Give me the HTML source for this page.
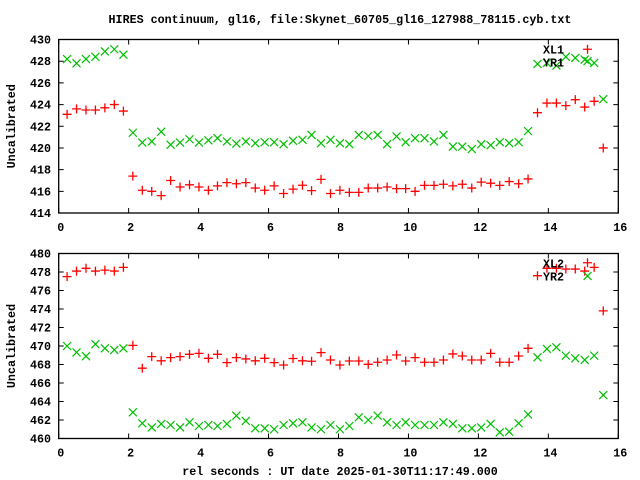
<!DOCTYPE html>
<html><head><meta charset="utf-8"><style>
html,body{margin:0;padding:0;background:#fff;}
svg{display:block;}
text{font-family:"Liberation Mono","DejaVu Sans Mono",monospace;font-weight:bold;font-size:11.7px;fill:#000;}
</style></head>
<body>
<svg id="chart" width="640" height="480" viewBox="0 0 640 480">
<text x="340" y="23" text-anchor="middle">HIRES continuum, gl16, file:Skynet_60705_gl16_127988_78115.cyb.txt</text>
<text x="340" y="475" text-anchor="middle">rel seconds : UT date 2025-01-30T11:17:49.000</text>
<g id="p1"></g>
<g id="p2"></g>
</svg>
<script>
const times = [0.24,0.51,0.78,1.05,1.32,1.59,1.85,2.12,2.39,2.66,2.93,3.20,3.47,3.74,4.01,4.28,4.54,4.81,5.08,5.35,5.62,5.89,6.16,6.43,6.70,6.97,7.23,7.50,7.77,8.04,8.31,8.58,8.85,9.12,9.39,9.66,9.92,10.19,10.46,10.73,11.00,11.27,11.54,11.81,12.08,12.35,12.61,12.88,13.15,13.42,13.69,13.96,14.23,14.50,14.77,15.04,15.12,15.31,15.57];
const xl1 = [423.1,423.6,423.5,423.5,423.7,424.0,423.4,417.4,416.1,416.0,415.6,417.0,416.4,416.6,416.4,416.1,416.5,416.8,416.7,416.8,416.3,416.1,416.5,415.8,416.2,416.56,416.06,417.1,415.8,416.1,415.9,415.9,416.3,416.3,416.4,416.25,416.25,416.0,416.55,416.55,416.65,416.5,416.65,416.3,416.85,416.75,416.55,416.9,416.7,417.14,423.25,424.14,424.14,423.9,424.45,423.77,429.1,424.3,420.0];
const yr1 = [428.2,427.8,428.2,428.4,428.9,429.1,428.6,421.4,420.5,420.6,421.5,420.3,420.5,420.8,420.5,420.7,420.9,420.6,420.4,420.6,420.44,420.53,420.53,420.35,420.66,420.75,421.2,420.44,420.75,420.44,420.35,421.2,421.1,421.2,420.35,421.06,420.53,420.9,420.9,420.6,421.2,420.13,420.13,419.9,420.35,420.25,420.53,420.45,420.53,421.55,427.75,427.84,427.6,428.4,428.3,428.15,428.0,427.84,424.5];
const xl2 = [477.5,478.1,478.4,478.1,478.2,478.1,478.5,470.07,467.6,468.85,468.4,468.74,468.85,469.1,469.2,468.67,469.1,468.2,468.74,468.6,468.4,468.67,468.2,467.95,468.65,468.4,468.35,469.28,468.49,467.95,468.38,468.38,468.02,468.24,468.49,469.03,468.38,468.74,468.24,468.24,468.49,469.14,468.92,468.49,468.49,469.2,468.24,468.24,468.92,469.75,477.6,478.4,478.4,478.32,478.32,478.1,479.0,478.5,473.8];
const yr2 = [470.0,469.3,468.9,470.2,469.75,469.57,469.75,462.83,461.64,461.2,461.57,461.46,461.2,461.75,461.35,461.46,461.35,461.57,462.47,461.9,461.1,461.1,461.0,461.46,461.64,461.75,461.2,461.0,461.46,461.0,461.35,462.29,462.0,462.47,461.75,461.46,461.75,461.46,461.46,461.46,461.75,461.57,461.1,461.1,461.2,461.57,460.67,460.74,461.64,462.6,468.78,469.68,469.86,468.96,468.67,468.49,477.57,468.96,464.7];
const xTicks = [0,2,4,6,8,10,12,14,16];
const yTicks1 = [414,416,418,420,422,424,426,428,430];
const yTicks2 = [460,462,464,466,468,470,472,474,476,478,480];

const NS = "http://www.w3.org/2000/svg";
function mk(parent, tag, attrs){const e=document.createElementNS(NS,tag);for(const k in attrs)e.setAttribute(k,attrs[k]);parent.appendChild(e);return e;}

const L = 58.7, R = 618.3;
function xs(t){return L + (t-0)/(16-0)*(R-L);}

function panel(g, top, bot, ymin, ymax, yTicks, s1, s2, n1, n2){
  const ys = v => bot - (v-ymin)/(ymax-ymin)*(bot-top);
  const frame = mk(g,'rect',{x:L,y:top,width:R-L,height:bot-top,fill:'none',stroke:'#000','stroke-width':1.3});
  
  
  yTicks.forEach(v=>{
    const y = ys(v);
    const t1 = mk(g,'path',{d:`M${L} ${y}h5M${R} ${y}h-5`,stroke:'#000','stroke-width':1});
    
    
    const lb = mk(g,'text',{x:51,y:y+4,'text-anchor':'end'});
    lb.textContent = v;
    
    
  });
  xTicks.forEach(v=>{
    const x = xs(v);
    const t1 = mk(g,'path',{d:`M${x} ${bot}v-5M${x} ${top}v5`,stroke:'#000','stroke-width':1});
    
    
    const lb = mk(g,'text',{x:x+2,y:bot+18,'text-anchor':'middle'});
    lb.textContent = v;
    
    
  });
  const yl = mk(g,'text',{x:0,y:0,'text-anchor':'middle',transform:`translate(15 ${(top+bot)/2}) rotate(-90)`});
  yl.textContent = 'Uncalibrated';
  
  
  const g1 = mk(g,'g',{});
  
  
  s1.forEach((v,i)=>{
    const x=xs(times[i]), y=ys(v);
    const p = mk(g1,'path',{d:`M${x-4.5} ${y}h9M${x} ${y-4.5}v9`,stroke:'#ff0000','stroke-width':1.3});
    
    
  });
  const g2 = mk(g,'g',{});
  
  
  s2.forEach((v,i)=>{
    const x=xs(times[i]), y=ys(v);
    const p = mk(g2,'path',{d:`M${x-4} ${y-4}l8 8M${x-4} ${y+4}l8 -8`,stroke:'#00c000','stroke-width':1.2});
    
    
  });
  const l1 = mk(g,'text',{x:543,y:top+14});
  l1.textContent = n1;
  
  
  const l2 = mk(g,'text',{x:543,y:top+27});
  l2.textContent = n2;
  
  
}
panel(document.getElementById('p1'), 39.5, 213, 414, 430, yTicks1, xl1, yr1, 'XL1', 'YR1');
panel(document.getElementById('p2'), 253.5, 438.5, 460, 480, yTicks2, xl2, yr2, 'XL2', 'YR2');
</script>
</body></html>
